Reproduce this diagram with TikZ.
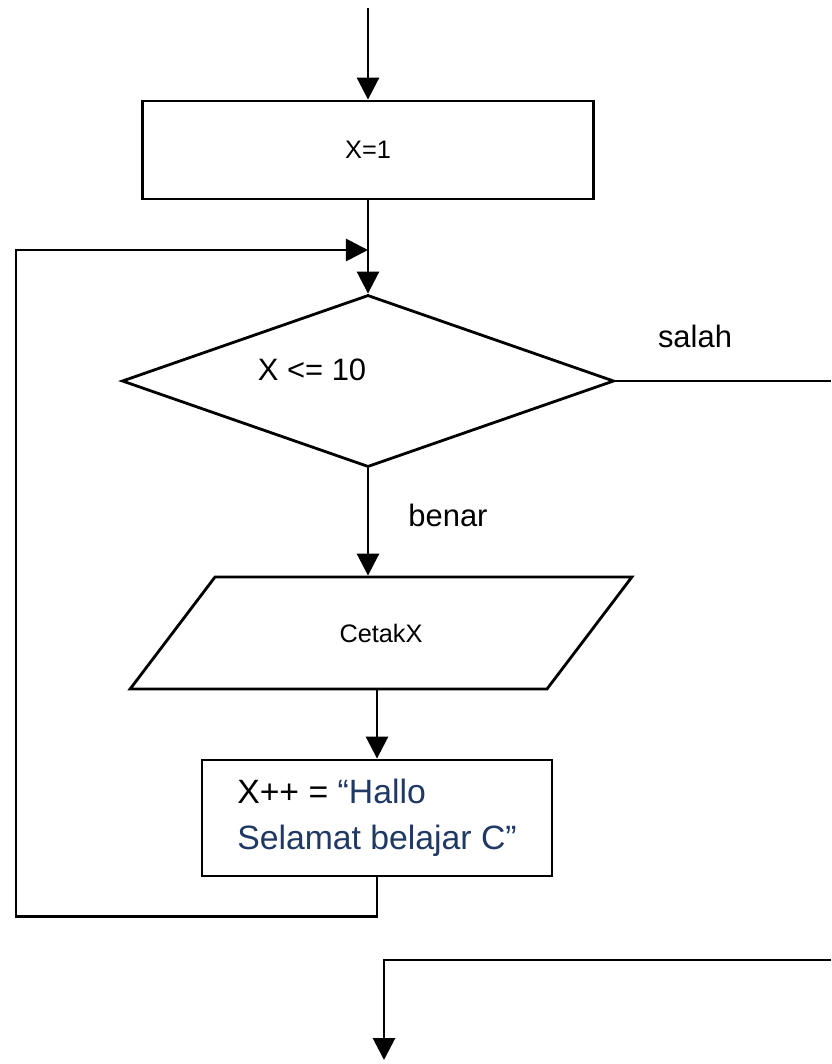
\documentclass[tikz,border=0pt]{standalone}
\usepackage{fontspec}
\setmainfont{Liberation Sans}
\usetikzlibrary{arrows.meta,shapes.geometric}
\definecolor{birutua}{HTML}{1F3864}

\begin{document}
\begin{tikzpicture}[x=0.025cm,y=-0.025cm,line width=2pt,
	panah/.style={-{Triangle[length=0.55cm,width=0.55cm]}},
	proses node/.style={rectangle,draw,inner sep=0pt},
	keputusan node/.style={diamond,draw,inner sep=0pt,minimum width=12.3cm,minimum height=4.3cm},
	io node/.style={trapezium,draw,trapezium left angle=41.2,trapezium right angle=138.8,
		trapezium stretches=true,minimum width=12.55cm,minimum height=2.8cm,inner sep=0pt},
	teks/.style={font=\fontsize{22}{26}\selectfont}
]
	\useasboundingbox (0,0) rectangle (831,1064);

	\coordinate (mulai) at (368,8);
	\coordinate (balik) at (16,250);
	\coordinate (keluar) at (831,381);
	\coordinate (masuk) at (831,960);
	\coordinate (selesai) at (384,1060);

	\node[proses node,minimum width=11.275cm,minimum height=2.45cm,font=\fontsize{18}{22}\selectfont] (awal) at (368,150) {X=1};
	\node[keputusan node] (cek) at (368,381) {};
	\node[teks] (syarat) at (312,370) {X <= 10};
	\node[io node,font=\fontsize{18}{22}\selectfont] (cetak) at (381,633) {CetakX};
	\node[proses node,minimum width=8.75cm,minimum height=2.9cm,align=left,
		font=\fontsize{24}{33}\selectfont] (tambah) at (377,818)
		{X++ = \textcolor{birutua}{“Hallo}\\\textcolor{birutua}{Selamat belajar C”}};

	\node[teks] (benar) at (448,515) {benar};
	\node[teks] (salah) at (695,336) {salah};

	\draw[panah] (mulai) -- (awal.north);
	\draw[panah] (awal.south) -- (cek.north);
	\draw[panah] (cek.south) -- (cek.south |- cetak.north);
	\draw[panah] (cetak.south -| tambah.north) -- (tambah.north);

	% kembali ke atas
	\draw[panah] (tambah.south) -- ++(0,39) -| (balik) -- (balik -| cek.north);

	\draw (cek.east) -- (keluar);
	\draw[panah] (masuk) -| (selesai);
\end{tikzpicture}
\end{document}
